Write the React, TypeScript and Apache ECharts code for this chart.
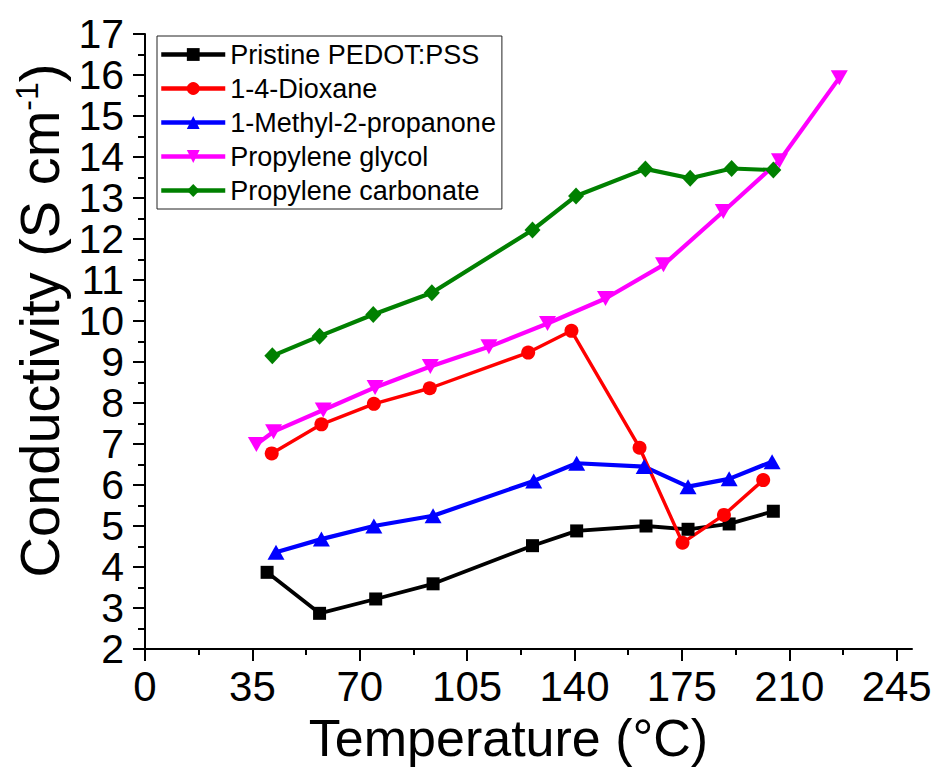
import React, { useEffect, useRef } from 'react';
import * as echarts from 'echarts';

const seriesNames = [
  'Pristine PEDOT:PSS',
  '1-4-Dioxane',
  '1-Methyl-2-propanone',
  'Propylene glycol',
  'Propylene carbonate',
];

const pristineX = [39.8, 56.9, 75.2, 93.9, 126.3, 140.7, 163.3, 177.0, 190.4, 204.8];
const pristineY = [3.87, 2.87, 3.22, 3.59, 4.52, 4.88, 5.0, 4.92, 5.05, 5.36];

const dioxaneX = [41.3, 57.5, 74.6, 92.8, 124.9, 139.0, 161.2, 175.2, 188.7, 201.5];
const dioxaneY = [6.77, 7.48, 7.98, 8.36, 9.23, 9.76, 6.91, 4.59, 5.27, 6.12];

const methylX = [42.7, 57.5, 74.6, 93.9, 126.7, 140.7, 162.7, 177.0, 190.4, 204.4];
const methylY = [4.36, 4.68, 5.0, 5.25, 6.1, 6.53, 6.45, 5.96, 6.15, 6.57];

const glycolX = [36.3, 41.9, 58.1, 75.0, 93.0, 112.1, 131.2, 150.1, 169.0, 188.5, 206.8, 226.3];
const glycolY = [6.99, 7.3, 7.83, 8.38, 8.89, 9.37, 9.94, 10.55, 11.37, 12.67, 13.91, 15.93];

const carbonateX = [41.5, 56.9, 74.4, 93.5, 126.3, 140.5, 163.1, 177.7, 191.2, 204.8];
const carbonateY = [9.15, 9.63, 10.16, 10.69, 12.22, 13.05, 13.71, 13.48, 13.72, 13.68];

const xTickValues = [0, 35, 70, 105, 140, 175, 210, 245];
const xMinorTickValues = [17.5, 52.5, 87.5, 122.5, 157.5, 192.5, 227.5];

const FONT = 'Arial, "Liberation Sans", sans-serif';

const zip = (xs: number[], ys: number[]) => xs.map((x, i) => [x, ys[i]]);

export default function App() {
  const ref = useRef<HTMLDivElement>(null);

  useEffect(() => {
    if (!ref.current) return;
    const chart = echarts.init(ref.current, null, { renderer: 'svg' });

    const mk = (
      name: string,
      xs: number[],
      ys: number[],
      color: string,
      symbol: string,
      size: number | number[],
      width: number,
      rotate = 0
    ) => ({
      type: 'line',
      name,
      data: zip(xs, ys),
      symbol,
      symbolSize: size,
      symbolRotate: rotate,
      showSymbol: true,
      lineStyle: { color, width },
      itemStyle: { color },
      emphasis: { disabled: true },
    });

    chart.setOption({
      animation: false,
      backgroundColor: '#ffffff',
      grid: { left: 145, right: 23, top: 34, bottom: 122, containLabel: false },
      legend: {
        orient: 'vertical',
        left: 157,
        top: 36,
        itemWidth: 64,
        itemHeight: 16,
        itemGap: 7,
        padding: [5, 6, 5, 2],
        borderColor: '#222',
        borderWidth: 1,
        backgroundColor: '#fff',
        lineStyle: { width: 4.5 },
        textStyle: { fontSize: 27, color: '#000', fontFamily: FONT },
        data: seriesNames,
      },
      xAxis: [
        {
          type: 'value',
          min: 0,
          max: 250,
          position: 'bottom',
          axisLine: { show: true, onZero: false, lineStyle: { color: '#000', width: 2 } },
          axisTick: { show: true, customValues: xTickValues, length: 12, lineStyle: { color: '#000', width: 2 } },
          axisLabel: {
            customValues: xTickValues,
            fontSize: 42,
            color: '#000',
            fontFamily: FONT,
            margin: 16,
          },
          splitLine: { show: false },
          name: 'Temperature (°C)',
          nameLocation: 'middle',
          nameGap: 60,
          nameTextStyle: { fontSize: 52, color: '#000', fontFamily: FONT, padding: [0, 40, 0, 0] },
        },
        {
          type: 'value',
          min: 0,
          max: 250,
          position: 'bottom',
          axisLine: { show: false, onZero: false },
          axisTick: { show: true, customValues: xMinorTickValues, length: 6, lineStyle: { color: '#000', width: 2 } },
          axisLabel: { show: false },
          splitLine: { show: false },
        },
      ],
      yAxis: {
        type: 'value',
        min: 2,
        max: 17,
        interval: 1,
        axisLine: { show: true, onZero: false, lineStyle: { color: '#000', width: 2 } },
        axisTick: { show: true, length: 12, lineStyle: { color: '#000', width: 2 } },
        minorTick: { show: true, splitNumber: 2, length: 7, lineStyle: { color: '#000', width: 2 } },
        axisLabel: { fontSize: 41, color: '#000', fontFamily: FONT, margin: 21 },
        splitLine: { show: false },
        minorSplitLine: { show: false },
        name: '{a|Conductivity (S cm}{s|-1}{a|)}',
        nameLocation: 'middle',
        nameRotate: 90,
        nameGap: 78,
        nameTextStyle: {
          fontSize: 56,
          color: '#000',
          fontFamily: FONT,
          lineHeight: 56,
          padding: [0, 0, 0, 42],
          rich: {
            a: { fontSize: 56, lineHeight: 56, color: '#000', fontFamily: FONT },
            s: { fontSize: 32, lineHeight: 56, color: '#000', fontFamily: FONT, verticalAlign: 'top', padding: [0, 0, 22, 0] },
          },
        },
      },
      series: [
        mk(seriesNames[0], pristineX, pristineY, '#000000', 'rect', 13, 3.8),
        mk(seriesNames[2], methylX, methylY, '#0000ff', 'triangle', [17, 15], 4.2),
        mk(seriesNames[1], dioxaneX, dioxaneY, '#ff0000', 'circle', 14, 3.4),
        mk(seriesNames[4], carbonateX, carbonateY, '#008000', 'diamond', [16, 17], 4.2),
        mk(seriesNames[3], glycolX, glycolY, '#ff00ff', 'triangle', [17, 15], 4.2, 180),
      ],
    });

    return () => chart.dispose();
  }, []);

  return (
    <div
      ref={ref}
      style={{ position: 'fixed', left: 0, top: 0, width: 935, height: 771, background: '#fff' }}
    />
  );
}
